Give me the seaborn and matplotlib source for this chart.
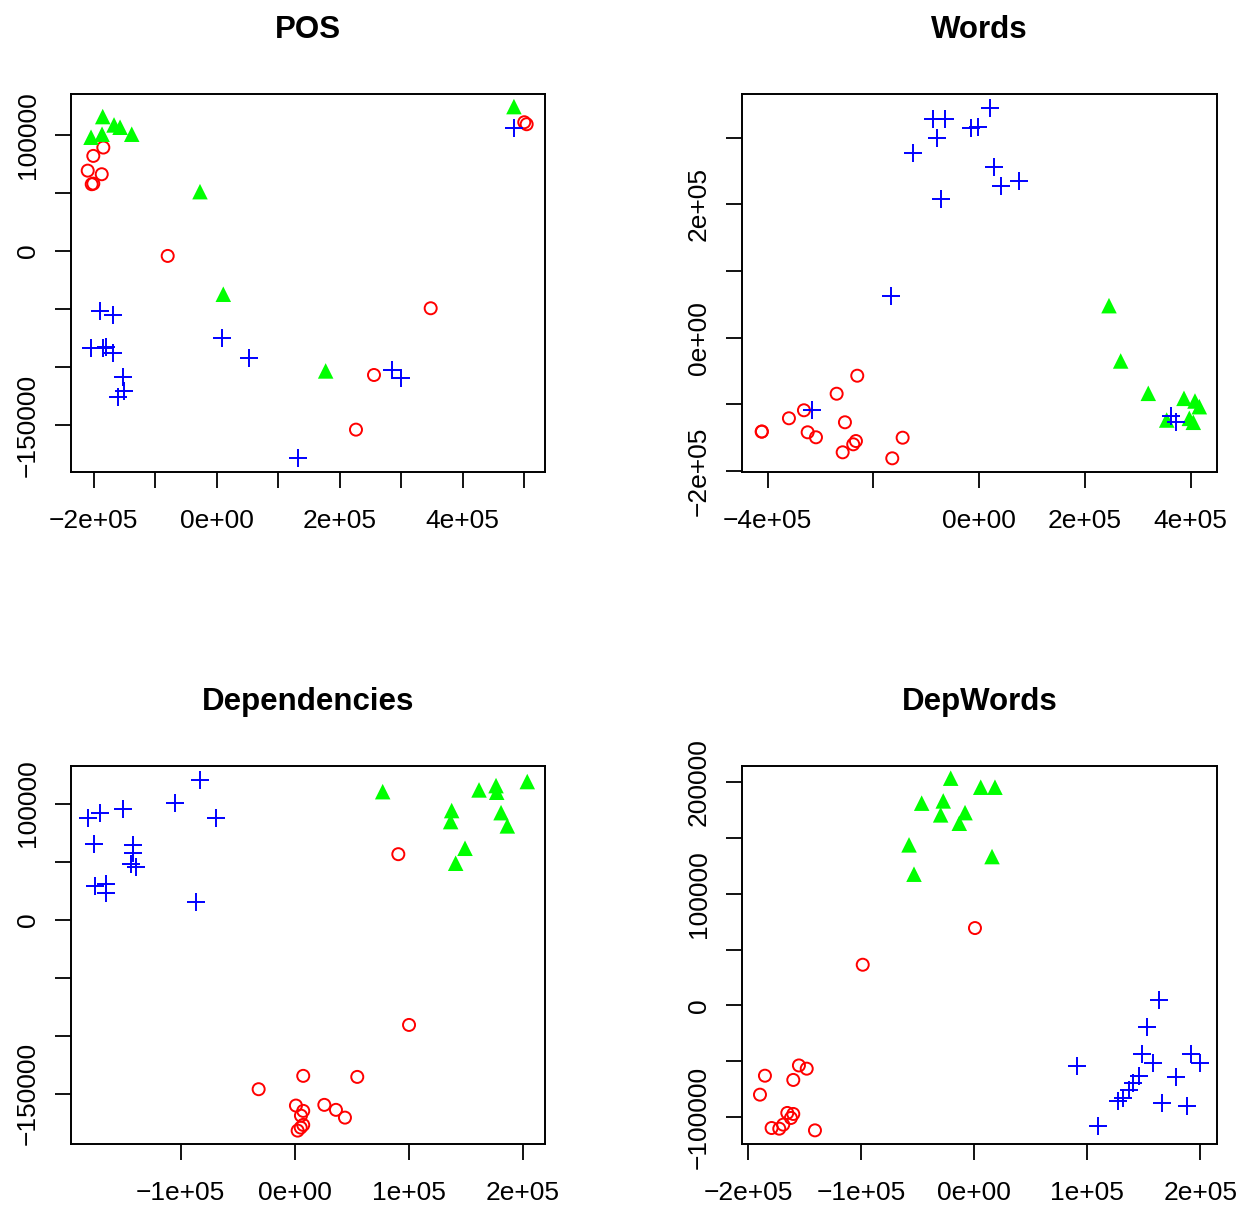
import numpy as np
import matplotlib
matplotlib.use("Agg")
import matplotlib.pyplot as plt
import seaborn as sns

# ---- POS ----
pos_red_x = [-184400, -200700, -209800, -187000, -203300, -200700, -79700, 348000, 255800, 226500, 500200, 504100]
pos_red_y = [89100, 81900, 69200, 66100, 57500, 58000, -4300, -49400, -106900, -154000, 110900, 109200]
pos_green_x = [-185400, -167000, -157200, -204400, -186500, -138200, -27200, 10700, 177200, 483400]
pos_green_y = [115800, 108600, 106600, 98000, 100600, 100600, 51100, -37300, -103400, 124400]
pos_blue_x = [-189800, -169100, -204400, -185400, -180000, -168100, -152800, -150700, -160000, 8100, 52500,
              132200, 285500, 299200, 483400]
pos_blue_y = [-51700, -55200, -83900, -83900, -82500, -88200, -108300, -120700, -125600, -74700, -92000,
              -178700, -102600, -109700, 106300]

# ---- Words ----
words_red_x = [-411500, -411000, -359900, -331500, -324500, -308800, -269700, -230700, -254000, -258300,
               -238300, -233200, -164500, -144900]
words_red_y = [-140900, -140600, -120800, -108800, -141800, -149300, -84000, -57000, -126800, -171800,
               -159800, -154900, -180800, -149900]
words_green_x = [245300, 267400, 319600, 387100, 407900, 416100, 354400, 397200, 404700]
words_green_y = [48000, -34900, -83400, -90900, -94900, -103400, -123400, -120900, -126800]
words_blue_x = [20200, -88100, -64900, -16300, -1900, -80600, -124800, 28400, 41000, 75700, -72400,
                -167000, -317000, 362000, 372000]
words_blue_y = [344800, 327400, 327400, 313900, 316300, 299900, 277400, 256400, 227400, 234900, 207900,
                63000, -108400, -117400, -126800]

# ---- Dependencies ----
deps_red_x = [90900, 100300, 7500, 54900, -31600, 1100, 7500, 5500, 7500, 5300, 2600, 26000, 36200, 44100]
deps_red_y = [56400, -90800, -134700, -135600, -146200, -160300, -164900, -169000, -177000, -179300,
              -181900, -159700, -164000, -170700]
deps_green_x = [77200, 161700, 176600, 177200, 204000, 137700, 136800, 181000, 186500, 149400, 141200]
deps_green_y = [110300, 111800, 115500, 109800, 119000, 94000, 84500, 92200, 80800, 61500, 48600]
deps_blue_x = [-181600, -170800, -150400, -105000, -83100, -69000, -175800, -142100, -141600, -143900,
               -139500, -175200, -165500, -165500, -86600]
deps_blue_y = [87400, 91700, 95400, 100900, 120400, 87400, 65000, 64400, 57200, 47800, 45700, 29100,
               30500, 22800, 15500]

# ---- DepWords ----
dw_red_x = [600, -98800, -185400, -189800, -160300, -155300, -148400, -165600, -160300, -162400, -169200,
            -172700, -179500, -141100]
dw_red_y = [69400, 36500, -63000, -80000, -66800, -53800, -56700, -96400, -97300, -100900, -106900,
            -110500, -109900, -112000]
dw_green_x = [-20900, 5700, 18300, -46600, -27500, -29800, -8200, -13300, -57800, 15700, -53400]
dw_green_y = [203800, 195700, 195700, 181400, 183400, 170900, 172900, 163400, 144000, 133500, 117700]
dw_blue_x = [163600, 153200, 148300, 158500, 191900, 199900, 90700, 146100, 178400, 140800, 137300,
             132000, 127500, 166000, 188700, 109300]
dw_blue_y = [5100, -19400, -43500, -51600, -43500, -51600, -54700, -63600, -64500, -69500, -75500,
             -83000, -86000, -87500, -90500, -108400]

# tick values and the labels R actually drew (others dropped for overlap)
pos_xticks = [-200000, -100000, 0, 100000, 200000, 300000, 400000, 500000]
pos_xlabels = ["\u22122e+05", "", "0e+00", "", "2e+05", "", "4e+05", ""]
pos_yticks = [100000, 50000, 0, -50000, -100000, -150000]
pos_ylabels = ["100000", "", "0", "", "", "\u2212150000"]

words_xticks = [-400000, -200000, 0, 200000, 400000]
words_xlabels = ["\u22124e+05", "", "0e+00", "2e+05", "4e+05"]
words_yticks = [300000, 200000, 100000, 0, -100000, -200000]
words_ylabels = ["", "2e+05", "", "0e+00", "", "\u22122e+05"]

deps_xticks = [-100000, 0, 100000, 200000]
deps_xlabels = ["\u22121e+05", "0e+00", "1e+05", "2e+05"]
deps_yticks = [100000, 50000, 0, -50000, -100000, -150000]
deps_ylabels = ["100000", "", "0", "", "", "\u2212150000"]

dw_xticks = [-200000, -100000, 0, 100000, 200000]
dw_xlabels = ["\u22122e+05", "\u22121e+05", "0e+00", "1e+05", "2e+05"]
dw_yticks = [200000, 150000, 100000, 50000, 0, -50000, -100000]
dw_ylabels = ["200000", "", "100000", "", "0", "", "\u2212100000"]

sns.set_style("ticks")
plt.rcParams['font.family'] = ['Liberation Sans', 'DejaVu Sans']
plt.rcParams['text.color'] = 'black'

FONT_SIZE = 19


def draw_panel(ax, title, red, green, blue, xlim, ylim, xticks, xlabels, yticks, ylabels):
    sns.scatterplot(x=red[0], y=red[1], ax=ax, marker='o', s=75, facecolor='none',
                    edgecolor='#FF0000', linewidth=1.4)
    sns.scatterplot(x=green[0], y=green[1], ax=ax, marker='^', s=125, color='#00FF00',
                    edgecolor='none', linewidth=0)
    sns.scatterplot(x=blue[0], y=blue[1], ax=ax, marker='+', s=150, color='#0000FF', linewidth=1.4)

    ax.set_xlim(xlim)
    ax.set_ylim(ylim)
    ax.set_xticks(xticks)
    ax.set_xticklabels(xlabels, fontsize=FONT_SIZE)
    ax.set_yticks(yticks)
    ax.set_yticklabels(ylabels, fontsize=FONT_SIZE, rotation=90, va='center')
    ax.tick_params(axis='both', direction='out', length=11.5, width=1.3, colors='black')
    ax.tick_params(axis='x', pad=15.5)
    ax.tick_params(axis='y', pad=11)
    for sp in ax.spines.values():
        sp.set_visible(True)
        sp.set_color('black')
        sp.set_linewidth(1.4)
    ax.set_title(title, fontsize=22.5, fontweight='bold', pad=40, color='black')
    ax.set_xlabel("")
    ax.set_ylabel("")


fig = plt.figure(figsize=(12.41, 12.09), dpi=100)
ax1 = fig.add_axes([0.0572, 0.6096, 0.3820, 0.3127])
ax2 = fig.add_axes([0.5981, 0.6096, 0.3828, 0.3127])
ax3 = fig.add_axes([0.0572, 0.0538, 0.3820, 0.3127])
ax4 = fig.add_axes([0.5981, 0.0538, 0.3828, 0.3127])

draw_panel(ax1, "POS", (pos_red_x, pos_red_y), (pos_green_x, pos_green_y), (pos_blue_x, pos_blue_y),
           (-237000, 534000), (-190500, 135300), pos_xticks, pos_xlabels, pos_yticks, pos_ylabels)
draw_panel(ax2, "Words", (words_red_x, words_red_y), (words_green_x, words_green_y),
           (words_blue_x, words_blue_y), (-448200, 450100), (-201300, 365300),
           words_xticks, words_xlabels, words_yticks, words_ylabels)
draw_panel(ax3, "Dependencies", (deps_red_x, deps_red_y), (deps_green_x, deps_green_y),
           (deps_blue_x, deps_blue_y), (-196200, 219600), (-193400, 132500),
           deps_xticks, deps_xlabels, deps_yticks, deps_ylabels)
draw_panel(ax4, "DepWords", (dw_red_x, dw_red_y), (dw_green_x, dw_green_y), (dw_blue_x, dw_blue_y),
           (-205500, 215200), (-124200, 214800), dw_xticks, dw_xlabels, dw_yticks, dw_ylabels)

fig.savefig("out.png", dpi=100)
plt.close(fig)
